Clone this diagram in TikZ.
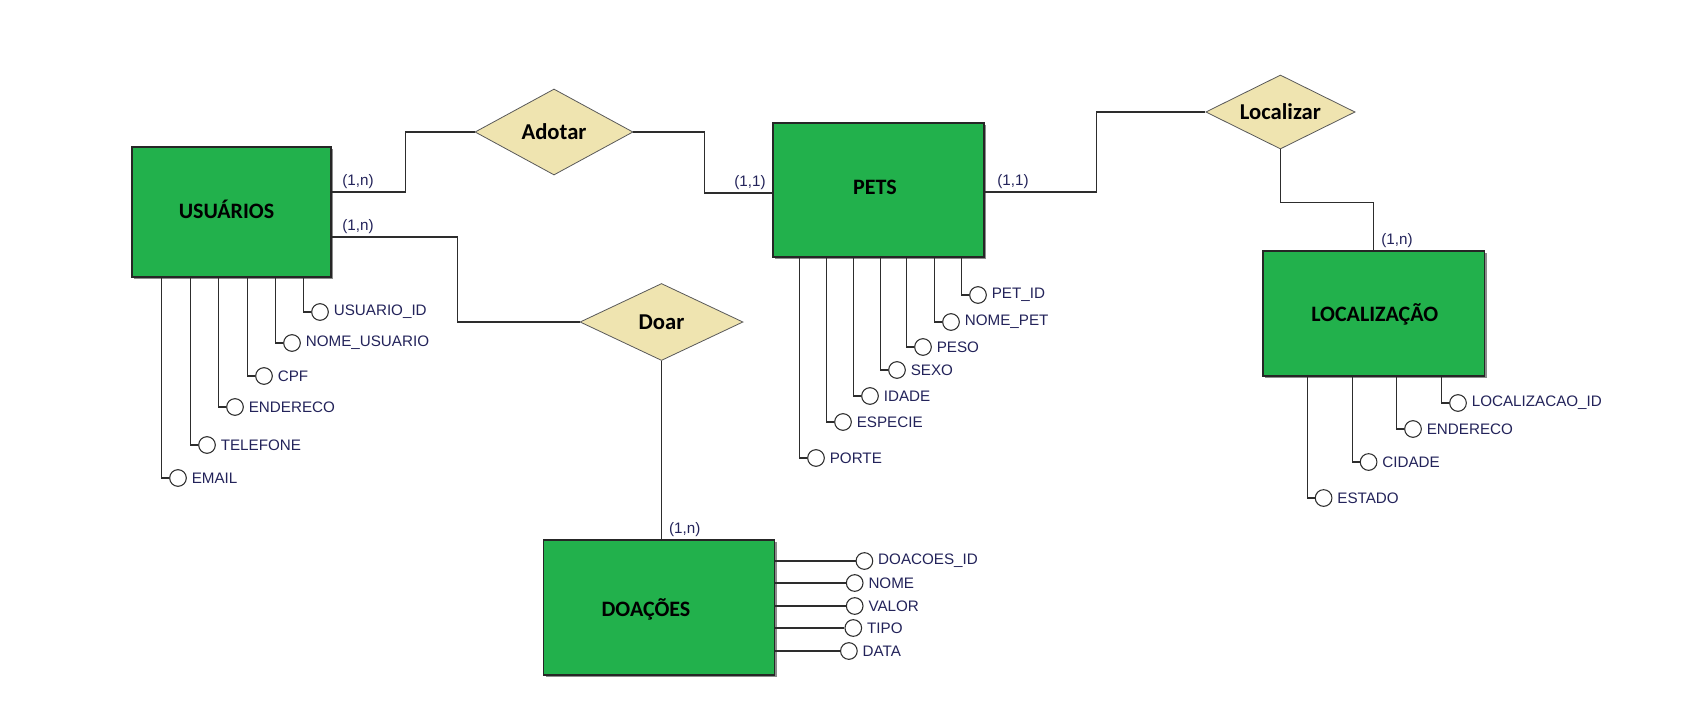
\documentclass[tikz,border=0pt]{standalone}
\usepackage{fontspec}
\setmainfont{Liberation Sans}
\newfontfamily\titlefont{Carlito}
\usetikzlibrary{shapes.geometric,shadows,calc}
\definecolor{entgreen}{RGB}{34,177,76}
\definecolor{relfill}{RGB}{239,228,176}
\definecolor{attrtxt}{RGB}{35,35,90}
\definecolor{linec}{RGB}{45,45,45}
\begin{document}
\begin{tikzpicture}[x=0.75pt,y=-0.75pt,
  entity/.style={rectangle, fill=entgreen, draw=black!85, line width=1.2pt, inner sep=0pt,
    drop shadow={shadow xshift=1.8pt, shadow yshift=-1.8pt, fill=black!45, opacity=1}},
  title/.style={font=\titlefont\bfseries\fontsize{16.5}{19}\selectfont, inner sep=0pt},
  rel/.style={diamond, aspect=2, fill=relfill, draw=black!65, line width=0.6pt, inner sep=0pt,
    font=\titlefont\bfseries\fontsize{17}{20}\selectfont},
  attr/.style={circle, draw=linec, fill=white, line width=0.8pt, minimum size=12.5pt, inner sep=0pt},
  attrlabel/.style={text=attrtxt, font=\fontsize{11.4}{13}\selectfont, inner sep=1pt},
  card/.style={text=attrtxt, font=\fontsize{11.4}{13}\selectfont, inner sep=1pt},
  conn/.style={draw=linec, line width=0.9pt}]
\path[use as bounding box, fill=white] (0,0) rectangle (1699,703);

% entities
\node[entity, minimum width=149.25pt, minimum height=97.5pt] (usu) at (231.5,212) {};
\node[entity, minimum width=158.25pt, minimum height=100.5pt] (pets) at (878.5,190) {};
\node[entity, minimum width=166.25pt, minimum height=93.75pt] (local) at (1373.7,313.5) {};
\node[entity, minimum width=173.25pt, minimum height=101.25pt] (doac) at (659,607.5) {};
\node[title] (usut) at ([shift={(-5,-3)}]usu.center) {USUÁRIOS};
\node[title] (petst) at ([shift={(-3.5,-3)}]pets.center) {PETS};
\node[title] (localt) at ([shift={(1,0.5)}]local.center) {LOCALIZAÇÃO};
\node[title] (doact) at ([shift={(-13,1.5)}]doac.center) {DOAÇÕES};

% relationships
\node[rel, minimum width=118.5pt, minimum height=64.5pt] (adotar) at (554,132) {Adotar};
\node[rel, minimum width=122.25pt, minimum height=57.75pt] (doar) at (661.5,322) {Doar};
\node[rel, minimum width=112pt, minimum height=55.5pt] (locr) at (1280.4,112) {Localizar};

% connectors
\draw[conn] ([shift={(0,-20)}]usu.east) -- ++(74,0) |- (adotar.west);
\draw[conn] ([shift={(0,25)}]usu.east) -- ++(126,0) |- (doar.west);
\draw[conn] (adotar.east) -- ++(71,0) |- ([shift={(0,3)}]pets.west);
\draw[conn] ([shift={(0,2)}]pets.east) -- ++(112,0) |- (locr.west);
\draw[conn] (locr.south) -- ++(0,53) -| (local.north);
\draw[conn] (doar.south) -- (doar.south |- doac.north);

% cardinalities
\node[card, anchor=south west] (c1) at ([shift={(9,-22)}]usu.east) {(1,n)};
\node[card, anchor=south west] (c2) at ([shift={(9,23)}]usu.east) {(1,n)};
\node[card, anchor=south east] (c3) at ([shift={(-5,1)}]pets.west) {(1,1)};
\node[card, anchor=south west] (c4) at ([shift={(11,0)}]pets.east) {(1,1)};
\node[card, anchor=south west] (c5) at ([shift={(6,-1)}]local.north) {(1,n)};
\node[card, anchor=south west] (c6) at ([shift={(6,-1)}]doar.south |- doac.north) {(1,n)};

% attributes of USUARIOS
\foreach \n/\x/\y/\t in {u1/320/312/USUARIO\_ID, u2/292/343/NOME\_USUARIO, u3/264/376/CPF,
    u4/235/407/ENDERECO, u5/207/445/TELEFONE, u6/178/478/EMAIL}{
  \node[attr, label={[attrlabel, label distance=2.5pt]right:\t}] (\n) at (\x,\y) {};
  \draw[conn] (\n.west) -- ++(-7.5,0) coordinate (tmp) -- (tmp |- usu.south);
}
% attributes of PETS
\foreach \n/\x/\y/\t in {p1/978/295/PET\_ID, p2/951/322/NOME\_PET, p3/923/347/PESO,
    p4/897/370/SEXO, p5/870/396/IDADE, p6/843/422/ESPECIE, p7/816/458/PORTE}{
  \node[attr, label={[attrlabel, label distance=2.5pt]right:\t}] (\n) at (\x,\y) {};
  \draw[conn] (\n.west) -- ++(-7.5,0) coordinate (tmp) -- (tmp |- pets.south);
}
% attributes of LOCALIZACAO
\foreach \n/\x/\y/\t in {l1/1458/403/LOCALIZACAO\_ID, l2/1413/429/ENDERECO,
    l3/1368.6/462/CIDADE, l4/1323.6/498/ESTADO}{
  \node[attr, label={[attrlabel, label distance=2.5pt]right:\t}] (\n) at (\x,\y) {};
  \draw[conn] (\n.west) -- ++(-7.5,0) coordinate (tmp) -- (tmp |- local.south);
}
% attributes of DOACOES
\foreach \n/\x/\y/\t in {d1/864.4/561/DOACOES\_ID, d2/854.7/583/NOME, d3/854.7/606/VALOR,
    d4/853.3/628/TIPO, d5/848.9/651/DATA}{
  \node[attr, label={[attrlabel, label distance=2.5pt]right:\t}] (\n) at (\x,\y) {};
  \draw[conn] (\n.west) -- (\n.west -| doac.east);
}
\end{tikzpicture}
\end{document}
